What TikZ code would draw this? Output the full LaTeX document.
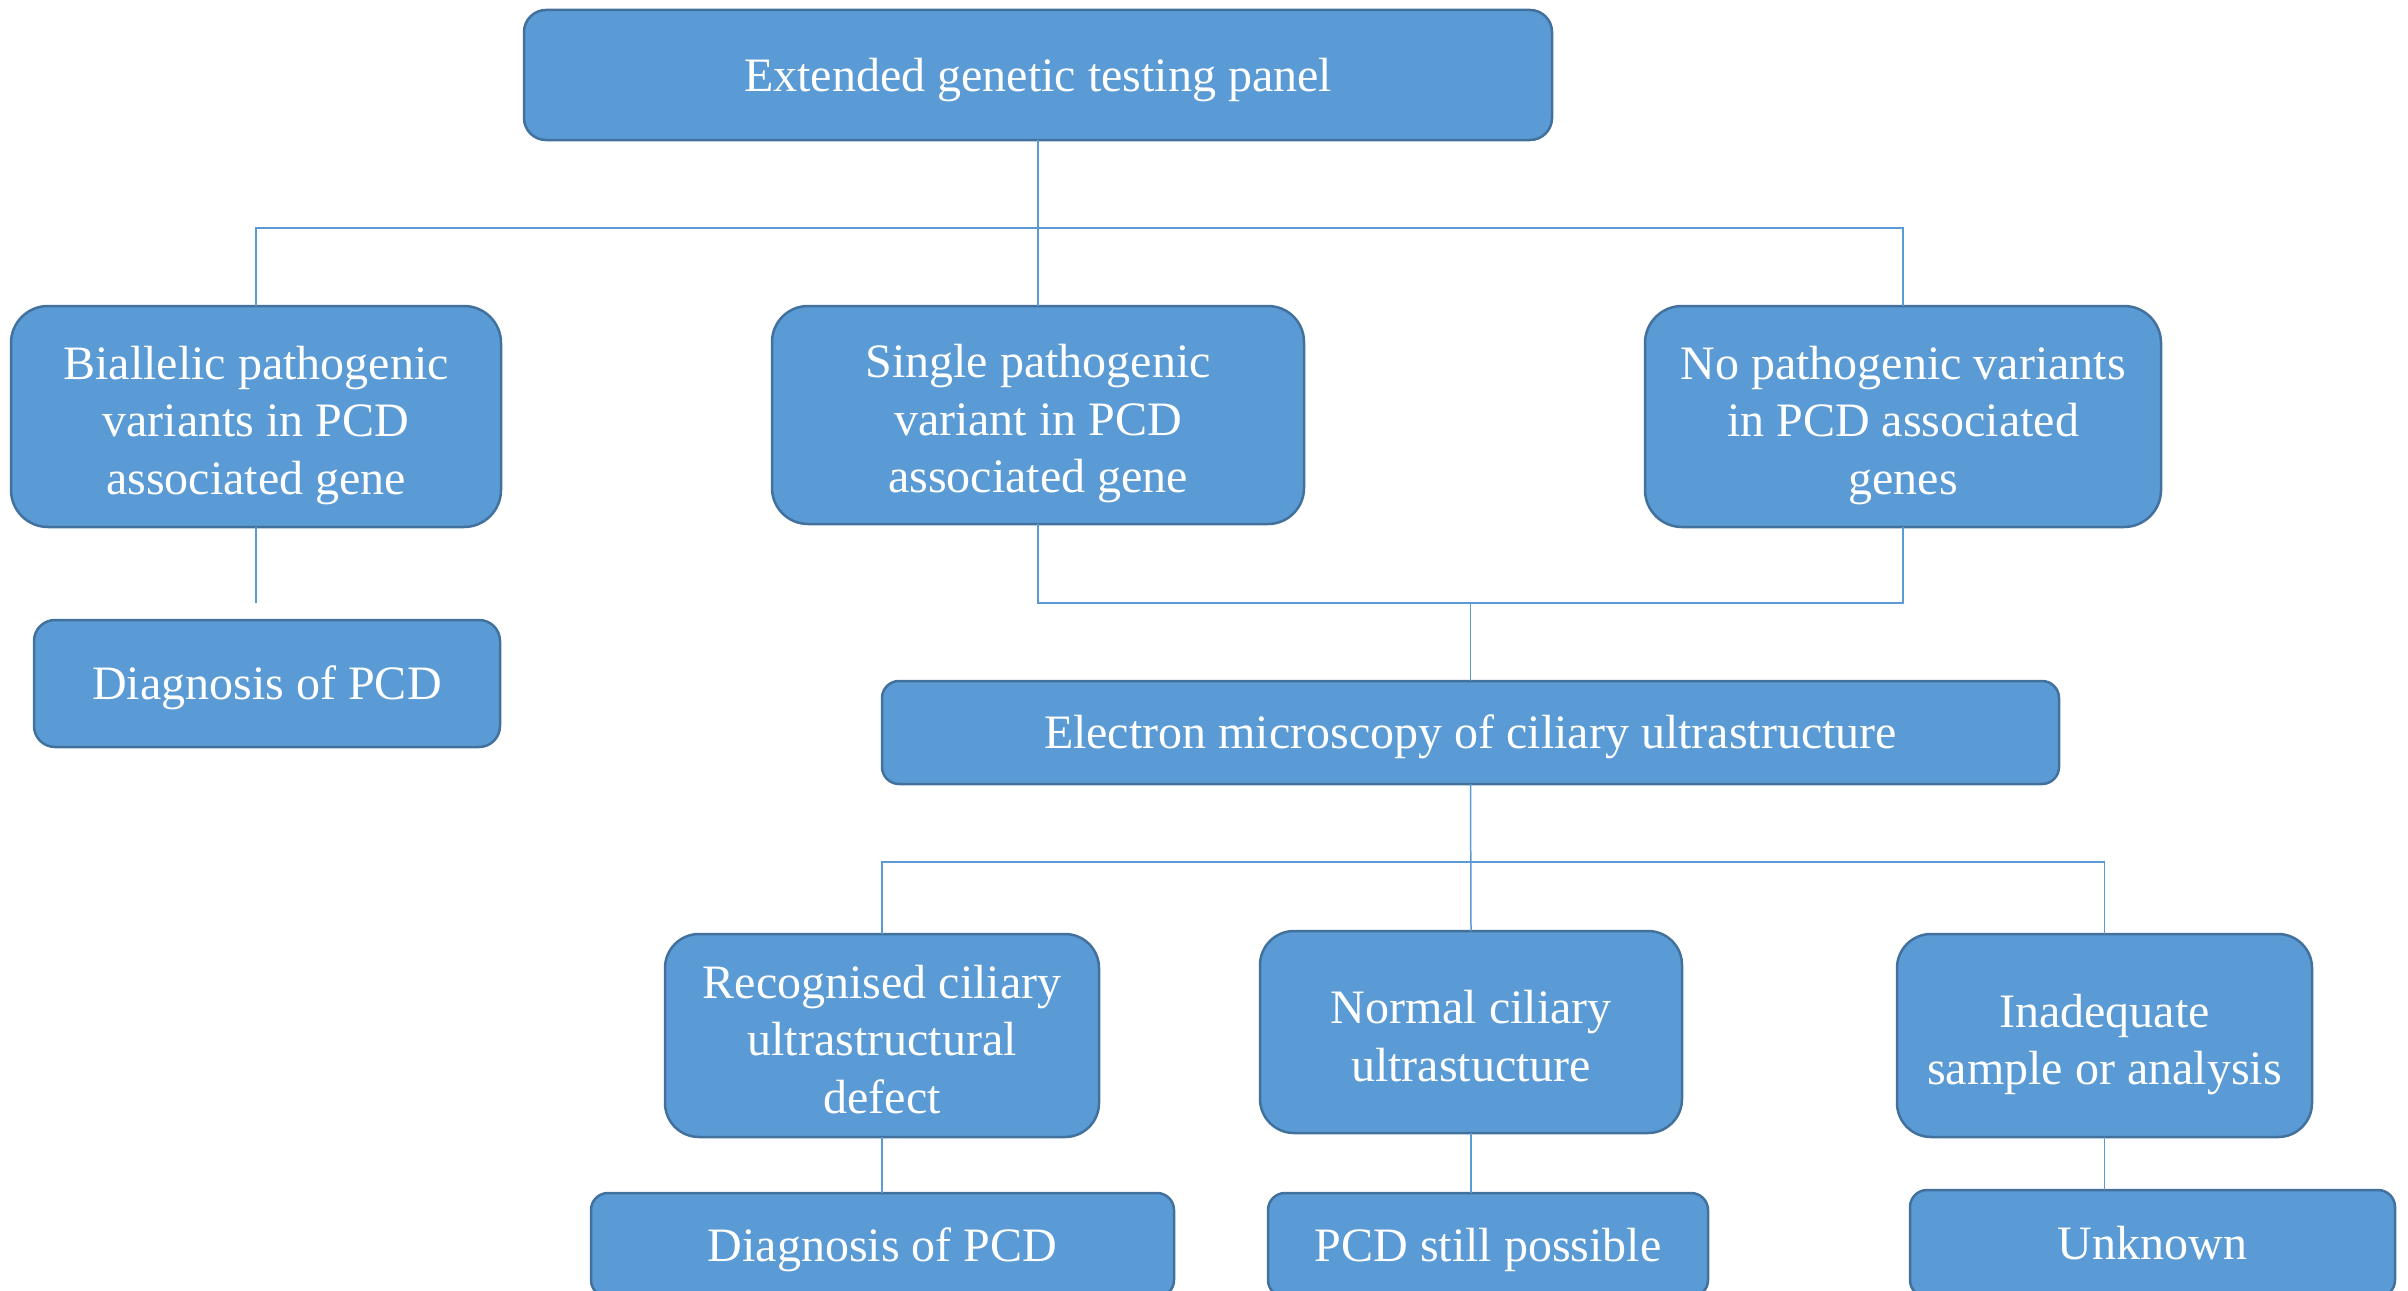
\documentclass[tikz,border=0pt]{standalone}
\usepackage{fontspec}
\setmainfont{Liberation Serif}
\definecolor{boxfill}{HTML}{5B9BD5}
\definecolor{boxline}{HTML}{41719C}
\definecolor{conn}{HTML}{5B9BD5}
\newcommand{\officestrut}{\rule[-0.216em]{0pt}{1.107em}}
\newcommand{\topline}{\rule{0pt}{51pt}}
\begin{document}
\begin{tikzpicture}[x=1pt,y=-1pt,
  box/.style={draw=boxline, line width=2.5pt, fill=boxfill, text=white,
    align=center, inner sep=0pt, outer sep=0pt,
    font=\fontsize{48}{57.6}\selectfont,
    execute at begin node=\officestrut,
    execute at end node=\officestrut},
  link/.style={draw=conn, line width=1.5pt}]
\useasboundingbox (0,0) rectangle (2408,1290);
% level 0
\node[box, minimum width=1028pt, minimum height=130pt, rounded corners=22pt] (top) at (1038,75) {Extended genetic testing panel};
% level 1
\node[box, minimum width=490pt, minimum height=221pt, rounded corners=37pt] (b1) at (256,416.5) {\topline Biallelic pathogenic\\variants in PCD\\associated gene};
\node[box, minimum width=532pt, minimum height=218pt, rounded corners=36pt] (b2) at (1038,415) {\topline Single pathogenic\\variant in PCD\\associated gene};
\node[box, minimum width=516pt, minimum height=221pt, rounded corners=37pt] (b3) at (1903,416.5) {\topline No pathogenic variants\\in PCD associated\\genes};
\node[box, minimum width=466pt, minimum height=127pt, rounded corners=21pt] (d1) at (267,683.5) {Diagnosis of PCD};
% electron microscopy
\node[box, minimum width=1177pt, minimum height=103pt, rounded corners=17pt] (em) at (1470.5,732.5) {Electron microscopy of ciliary ultrastructure};
% level 3
\node[box, minimum width=434pt, minimum height=203pt, rounded corners=34pt] (c1) at (882,1035.5) {\topline Recognised ciliary\\ultrastructural\\defect};
\node[box, minimum width=422pt, minimum height=202pt, rounded corners=34pt] (c2) at (1471,1032) {\topline Normal ciliary\\ultrastucture};
\node[box, minimum width=415pt, minimum height=203pt, rounded corners=34pt] (c3) at (2104.5,1035.5) {\topline Inadequate\\sample or analysis};
% level 4
\node[box, minimum width=583pt, minimum height=104pt, rounded corners=17pt] (e1) at (882.5,1245) {Diagnosis of PCD};
\node[box, minimum width=440pt, minimum height=104pt, rounded corners=17pt] (e2) at (1488,1245) {PCD still possible};
\node[box, minimum width=485pt, minimum height=107pt, rounded corners=17pt] (e3) at (2152.5,1243.5) {Unknown};
% connectors
\coordinate (j1) at (1038,228);
\coordinate (b1end) at (256,603);
\coordinate (j2) at (1470.5,603);
\coordinate (j3) at (1470.5,862);
\draw[link] (top) -- (b2);
\draw[link] (b1.north) |- (j1) -| (b3.north);
\draw[link] (b1.south) -- (b1end);
\draw[link] (b2.south) |- (j2) -| (b3.south);
\draw[link] (j2) -- (em.north);
\draw[link] (c1.north) |- (j3) -| (c3.north);
\draw[link] (em.south) -- (c2.north);
\draw[link] (c1.south) -- (c1.south |- e1.north);
\draw[link] (c2.south) -- (c2.south |- e2.north);
\draw[link] (c3.south) -- (c3.south |- e3.north);
\end{tikzpicture}
\end{document}
